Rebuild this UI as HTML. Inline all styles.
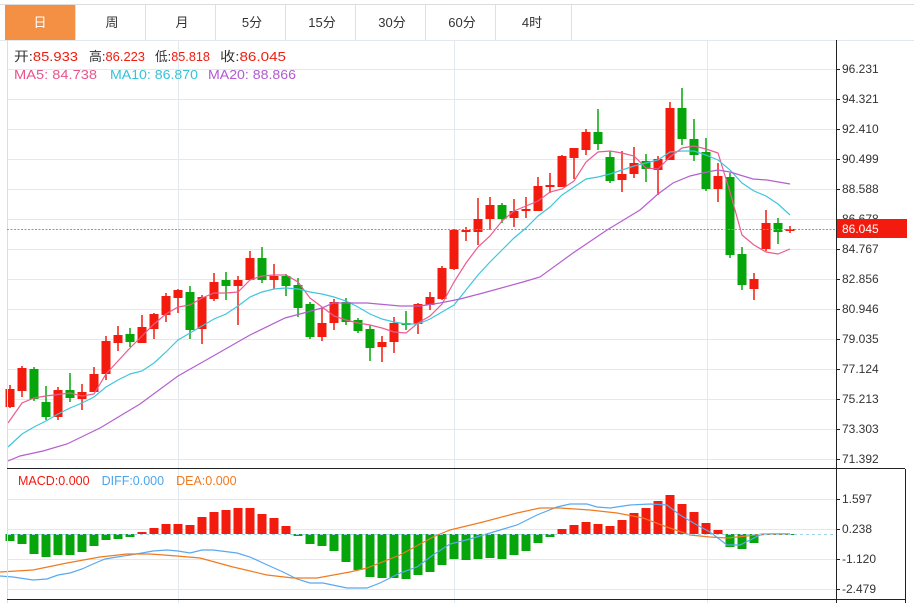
<!DOCTYPE html>
<html><head><meta charset="utf-8"><style>
body{margin:0;background:#fff;width:914px;height:603px;overflow:hidden;font-family:"Liberation Sans","Noto Sans CJK SC",sans-serif}
svg{position:absolute;left:0;top:0}
</style></head><body>
<svg id="s" width="914" height="603" xmlns="http://www.w3.org/2000/svg" font-family="Liberation Sans, Noto Sans CJK SC, sans-serif">
<g id="grid" stroke="#e1e8ef" stroke-width="1"></g>
<line x1="0" y1="4.5" x2="914" y2="4.5" stroke="#ddd"/>
<line x1="0" y1="40.5" x2="914" y2="40.5" stroke="#e3e8ee"/>
<rect x="5" y="5" width="70" height="35" fill="#f39044"/>
<g stroke="#e0e0e0"><line x1="75.5" y1="5" x2="75.5" y2="40"/><line x1="145.5" y1="5" x2="145.5" y2="40"/><line x1="215.5" y1="5" x2="215.5" y2="40"/><line x1="285.5" y1="5" x2="285.5" y2="40"/><line x1="355.5" y1="5" x2="355.5" y2="40"/><line x1="425.5" y1="5" x2="425.5" y2="40"/><line x1="495.5" y1="5" x2="495.5" y2="40"/><line x1="571.5" y1="5" x2="571.5" y2="40"/></g>
<g font-size="13" text-anchor="middle" fill="#333">
<text x="40" y="27" fill="#fff">日</text><text x="112" y="27">周</text><text x="182" y="27">月</text><text x="252" y="27">5分</text><text x="322" y="27">15分</text><text x="392" y="27">30分</text><text x="462" y="27">60分</text><text x="532" y="27">4时</text>
</g>
<g id="plot"></g>
<line x1="7.5" y1="40" x2="7.5" y2="603" stroke="#ddd"/>
<line x1="836.5" y1="40" x2="836.5" y2="603" stroke="#222"/>
<line x1="905.5" y1="469" x2="905.5" y2="603" stroke="#222"/>
<line x1="7" y1="468.5" x2="905" y2="468.5" stroke="#222"/>
<line x1="7" y1="599.5" x2="905" y2="599.5" stroke="#222"/>
<line x1="7" y1="229.5" x2="836" y2="229.5" stroke="#f47070" stroke-dasharray="2,1.5"/>
<line x1="8" y1="534.5" x2="836" y2="534.5" stroke="#9fd3e8" stroke-dasharray="3,3"/>
<g id="ticks" stroke="#222"></g>
<g font-size="12" fill="#333">
<text x="842" y="73">96.231</text><text x="842" y="103">94.321</text><text x="842" y="133">92.410</text><text x="842" y="163">90.499</text><text x="842" y="193">88.588</text><text x="842" y="223">86.678</text><text x="842" y="253">84.767</text><text x="842" y="283">82.856</text><text x="842" y="313">80.946</text><text x="842" y="343">79.035</text><text x="842" y="373">77.124</text><text x="842" y="403">75.213</text><text x="842" y="433">73.303</text><text x="842" y="463">71.392</text>
<text x="842" y="503">1.597</text><text x="842" y="533">0.238</text><text x="842" y="563">-1.120</text><text x="842" y="593">-2.479</text>
</g>
<rect x="837" y="219" width="70" height="19" fill="#f21b0e"/>
<text x="842" y="233" font-size="12" fill="#fff">86.045</text>
<g font-size="13">
<text x="14" y="61" textLength="64" lengthAdjust="spacingAndGlyphs"><tspan fill="#333">开:</tspan><tspan fill="#f21b0e">85.933</tspan></text>
<text x="89" y="61" textLength="56" lengthAdjust="spacingAndGlyphs"><tspan fill="#333">高:</tspan><tspan fill="#f21b0e">86.223</tspan></text>
<text x="155" y="61" textLength="55" lengthAdjust="spacingAndGlyphs"><tspan fill="#333">低:</tspan><tspan fill="#f21b0e">85.818</tspan></text>
<text x="220" y="61" textLength="66" lengthAdjust="spacingAndGlyphs"><tspan fill="#333">收:</tspan><tspan fill="#f21b0e">86.045</tspan></text>
<text x="14" y="79" fill="#e8558a" textLength="83" lengthAdjust="spacingAndGlyphs">MA5: 84.738</text>
<text x="110" y="79" fill="#34c3d9" textLength="88" lengthAdjust="spacingAndGlyphs">MA10: 86.870</text>
<text x="208" y="79" fill="#b05ad0" textLength="88" lengthAdjust="spacingAndGlyphs">MA20: 88.866</text>
</g>
<g font-size="12.5">
<text x="18" y="485"><tspan fill="#f21b0e">MACD:0.000</tspan><tspan fill="#4aa6f0" dx="12">DIFF:0.000</tspan><tspan fill="#f07a20" dx="12">DEA:0.000</tspan></text>
</g>
</svg>
<script>
var NS="http://www.w3.org/2000/svg";
function el(p,t,a){var e=document.createElementNS(NS,t);for(var k in a)e.setAttribute(k,a[k]);p.appendChild(e);return e;}
var grid=document.getElementById('grid'),plot=document.getElementById('plot'),ticks=document.getElementById('ticks');
for(var y=69;y<=459;y+=30){el(grid,'line',{x1:7,y1:y+.5,x2:836,y2:y+.5});el(ticks,'line',{x1:836,y1:y+.5,x2:840,y2:y+.5});}
[499,529,559,589].forEach(function(y){el(grid,'line',{x1:7,y1:y+.5,x2:836,y2:y+.5});el(ticks,'line',{x1:836,y1:y+.5,x2:840,y2:y+.5});});
[178,454,707].forEach(function(x){el(grid,'line',{x1:x+.5,y1:40,x2:x+.5,y2:603});});
var R="#f21b0e",G="#07a50c";
var C=[[1,389,407,385,408],[1,368,391,366,397],[0,369,399,367,401],[0,402,417,386,420],[1,390,417,387,420],[0,390,398,373,402],[1,392,399,384,410],[1,374,392,367,392],[1,341,374,336,380],[1,335,343,326,351],[0,334,342,328,347],[1,327,343,315,343],[1,314,329,313,339],[1,296,315,293,322],[1,290,298,289,313],[0,292,330,286,339],[1,297,329,295,344],[1,282,299,273,301],[0,280,286,272,300],[1,280,286,276,325],[1,258,280,251,280],[0,258,280,247,283],[1,276,280,264,289],[0,276,286,274,296],[0,285,308,278,317],[0,304,337,302,339],[1,323,337,307,341],[1,302,323,299,330],[0,302,322,298,325],[0,320,331,318,333],[0,329,348,325,361],[1,342,347,336,362],[1,323,342,317,353],[0,323,325,311,330],[1,304,324,303,334],[1,297,305,292,310],[1,268,299,266,300],[1,230,269,229,270],[1,230,232,227,241],[1,219,232,198,245],[1,205,219,197,230],[0,205,219,203,223],[1,211,218,199,227],[1,209,211,197,218],[1,186,211,177,211],[1,185,187,173,193],[1,156,187,155,187],[1,148,158,148,179],[1,132,150,129,155],[0,132,144,109,150],[0,157,181,151,183],[1,174,180,151,192],[1,163,174,147,178],[0,161,169,154,182],[1,159,170,156,195],[1,108,160,102,160],[0,108,139,88,145],[0,139,155,119,161],[0,152,189,138,191],[1,176,189,163,202],[0,177,255,173,258],[0,254,285,247,290],[1,279,289,273,300],[1,223,249,210,251],[0,223,232,218,244],[1,229,231,226,233]];
var M=[541,544,554,557,555,555,552,546,540,539,537,532,528,524,524,525,517,512,510,508,508,514,518,526,536,544,546,551,562,570,577,578,578,579,575,572,565,559,560,559,558,559,555,551,543,537,529,525,522,524,526,520,513,508,501,495,504,512,523,530,547,549,543,535,534,534];
var z=534;
M.forEach(function(v,i){var x=10+12*i;var up=v<z;var t=Math.min(v,z),h=Math.max(Math.abs(v-z),1);el(plot,'rect',{x:x-4.5,y:t,width:9,height:h,fill:up?R:G});});
function line(pts,col,w){el(plot,'polyline',{points:pts.map(function(p){return p.join(',')}).join(' '),fill:'none',stroke:col,'stroke-width':w||1.2});}
line([[0,576],[13,577],[33,580],[47,579],[58,575],[70,573],[82,569],[93,564],[105,559],[117,557],[130,555],[142,553],[153,551],[167,550],[178,551],[190,553],[202,550],[213,550],[237,553],[250,557],[263,563],[283,572],[297,579],[310,583],[323,583],[347,588],[367,588],[380,583],[400,573],[417,567],[433,555],[450,544],[470,539],[500,530],[517,525],[537,515],[557,507],[570,504],[587,504],[597,507],[610,508],[630,505],[650,504],[667,505],[680,515],[697,525],[710,532],[727,545],[740,545],[760,535],[770,534],[790,534]],"#5aa9f0");
line([[0,572],[33,570],[67,563],[100,557],[127,554],[150,554],[177,556],[200,558],[233,567],[267,575],[293,578],[317,578],[350,572],[367,568],[400,555],[433,537],[450,530],[483,522],[517,513],[540,508],[560,508],[590,510],[617,513],[643,518],[667,527],[690,535],[710,537],[727,538],[747,536],[763,534],[790,534]],"#f07a20");
C.forEach(function(c,i){var x=10+12*i,col=c[0]?R:G;el(plot,'rect',{x:x-.75,y:c[3],width:1.5,height:c[4]-c[3],fill:col});el(plot,'rect',{x:x-4.5,y:c[1],width:9,height:Math.max(c[2]-c[1],1.5),fill:col});});
line([[8,423],[22,403],[34,398],[46,396],[70,393],[82,396],[94,394],[106,374],[118,361],[130,348],[142,336],[154,324],[166,314],[178,307],[190,305],[202,298],[214,293],[226,293],[238,292],[250,280],[262,276],[274,275],[286,275],[298,282],[310,298],[322,307],[334,316],[346,320],[358,323],[370,325],[382,328],[394,332],[406,333],[418,323],[430,316],[442,304],[454,282],[466,263],[478,247],[490,236],[502,221],[514,211],[526,206],[538,201],[550,192],[562,189],[574,181],[586,162],[598,152],[610,151],[622,153],[634,156],[646,168],[658,169],[670,157],[682,148],[694,146],[706,149],[718,153],[730,192],[742,235],[754,245],[766,252],[778,254],[790,249]],"#ec5b8f");
line([[8,447],[22,434],[34,427],[46,421],[58,414],[70,408],[82,403],[94,397],[106,387],[118,380],[130,374],[142,371],[154,363],[166,352],[178,340],[190,333],[202,326],[214,319],[226,314],[238,306],[250,297],[262,292],[274,289],[286,288],[298,289],[310,292],[322,294],[334,297],[346,301],[358,307],[370,314],[382,319],[394,322],[406,324],[418,324],[430,319],[442,312],[454,305],[466,290],[478,275],[490,262],[502,250],[514,238],[526,228],[538,216],[550,207],[562,195],[574,187],[586,179],[598,177],[610,174],[622,170],[634,166],[646,163],[658,160],[670,152],[682,151],[694,151],[706,155],[718,160],[730,170],[742,183],[754,191],[766,196],[778,204],[790,215]],"#3fc6dc");
line([[8,461],[20,456],[43,451],[67,444],[100,428],[140,404],[178,376],[215,355],[250,335],[285,318],[300,314],[322,308],[333,303],[367,303],[400,306],[420,306],[440,303],[460,299],[483,293],[523,282],[540,277],[573,253],[607,230],[640,210],[658,194],[673,183],[690,176],[707,172],[718,170],[730,172],[753,179],[767,180],[790,184]],"#b45fd0");
</script>
</body></html>
